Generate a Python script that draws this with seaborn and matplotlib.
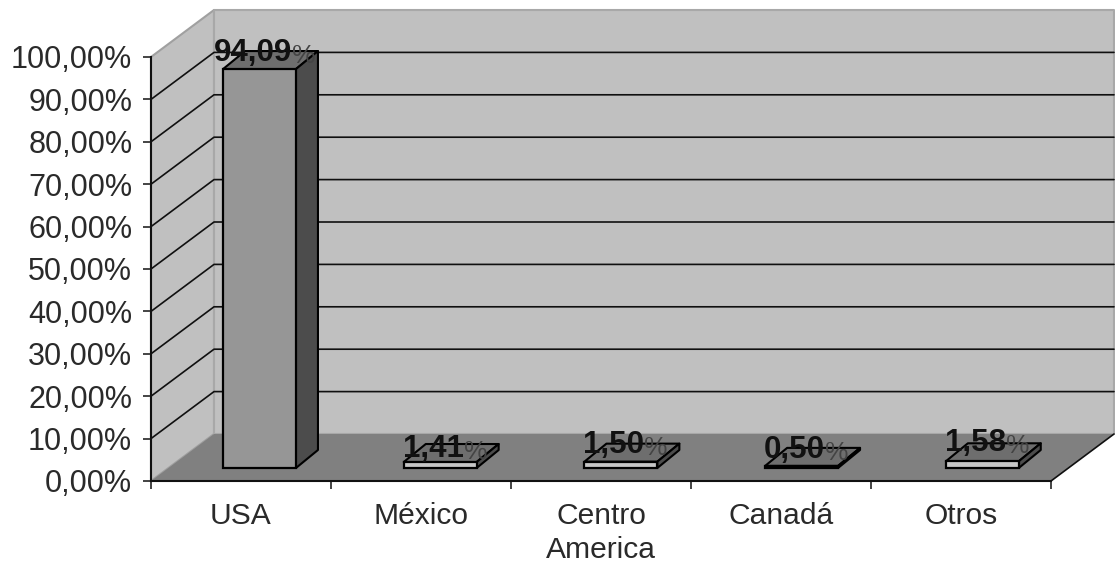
import matplotlib
matplotlib.use("Agg")
import matplotlib.pyplot as plt
from matplotlib.patches import Polygon
from matplotlib.transforms import Affine2D, IdentityTransform
import pandas as pd
import seaborn as sns

# Export share by destination
regions = ["USA", "México", "Centro\nAmerica", "Canadá", "Otros"]
shares = [94.09, 1.41, 1.50, 0.50, 1.58]
share_labels = ["94,09", "1,41", "1,50", "0,50", "1,58"]
y_ticks = [0, 10, 20, 30, 40, 50, 60, 70, 80, 90, 100]
y_tick_labels = ["0,00%", "10,00%", "20,00%", "30,00%", "40,00%", "50,00%",
                 "60,00%", "70,00%", "80,00%", "90,00%", "100,00%"]
front_colors = ["#969696", "#c6c6c6", "#c6c6c6", "#404040", "#c6c6c6"]
label_lift = [8, 5, 9, 8, 10]

W, H, DPI = 1115, 563, 100
BOX_DX, BOX_DY = 63, 47      # depth of the chart box, pixels
BAR_DX, BAR_DY = 18.5, 13    # where the bar row sits inside the box
BAR_DRIFT = 0.7              # extra pixels per category along the bar row
SIDE_DX, SIDE_DY = 22, 18    # depth of each bar
PIXELS = IdentityTransform()

sns.set_theme(style="white")
plt.rcParams["font.family"] = ["Liberation Sans", "DejaVu Sans"]

fig = plt.figure(figsize=(W / DPI, H / DPI), dpi=DPI, facecolor="white")
ax = fig.add_axes([151 / W, (H - 481) / H, 900 / W, 424 / H])
ax.patch.set_visible(False)

df = pd.DataFrame({"region": regions, "share": shares})
sns.barplot(data=df, x="region", y="share", hue="region", palette=front_colors,
            width=0.405, saturation=1, edgecolor="black", linewidth=1.6,
            legend=False, zorder=5, ax=ax)
bars = sorted(ax.patches, key=lambda p: p.get_x())
ax.set_xlim(-0.5, 4.5)
ax.set_ylim(0, 100)
xa, xb = ax.get_xlim()


def px(x, y, dx=0, dy=0):
    """Display position of a data point, moved by a pixel offset."""
    a, b = ax.transData.transform((x, y))
    return (a + dx, b + dy)


def face(points, color, z, edge="black", lw=1.6):
    ax.add_patch(Polygon(points, closed=True, facecolor=color, edgecolor=edge,
                         linewidth=lw, transform=PIXELS, clip_on=False, zorder=z,
                         joinstyle="round"))


def rule(points, color, lw, z=3):
    xs, ys = zip(*points)
    ax.plot(xs, ys, color=color, lw=lw, transform=PIXELS, clip_on=False, zorder=z)


box = (BOX_DX, BOX_DY)

# Walls and floor of the box
face([px(xa, 0), px(xa, 100), px(xa, 100, *box), px(xa, 0, *box)], "#c0c0c0", 1,
     edge="#a0a0a0", lw=1.5)
face([px(xa, 0, *box), px(xa, 100, *box), px(xb, 100, *box), px(xb, 0, *box)], "#c0c0c0", 1,
     edge="#a8a8a8", lw=1.5)
face([px(xa, 0), px(xb, 0), px(xb, 0, *box), px(xa, 0, *box)], "#808080", 2, edge="none", lw=0)

# Gridlines running along the side wall and across the back wall
for tick in y_ticks[1:-1]:
    rule([px(xa, tick), px(xa, tick, *box), px(xb, tick, *box)], "#101010", 1.2)
rule([px(xb, 0), px(xb, 0, *box)], "#101010", 1.2)

# Bars: front from seaborn, pushed into the box, with top and side faces added
to_fig = fig.transFigure.inverted()
for pos, (bar, value, text, lift) in enumerate(zip(bars, shares, share_labels, label_lift)):
    near = (BAR_DX + pos * BAR_DRIFT, BAR_DY)
    far = (near[0] + SIDE_DX, BAR_DY + SIDE_DY)
    bar.set_transform(ax.transData + Affine2D().translate(*near))
    bar.set_clip_on(False)
    x0, x1 = bar.get_x(), bar.get_x() + bar.get_width()
    face([px(x0, value, *near), px(x1, value, *near), px(x1, value, *far), px(x0, value, *far)],
         "#6e6e6e", 4, lw=1.5)
    face([px(x1, 0, *near), px(x1, value, *near), px(x1, value, *far), px(x1, 0, *far)],
         "#4c4c4c", 4, lw=1.5)
    fx, fy = to_fig.transform(px((x0 + x1) / 2, value, near[0] - 7, BAR_DY + lift))
    digits = ax.text(fx, fy, text, transform=fig.transFigure, ha="center", va="baseline",
                     fontsize=22.5, fontweight="bold", color="#111111", zorder=8, clip_on=False)
    ax.annotate("%", xy=(1, 0), xycoords=digits, xytext=(0, 0),
                textcoords="offset points", ha="left", va="bottom", fontsize=19,
                color="#444444", annotation_clip=False, zorder=8)

# Axes lines and ticks
sns.despine(ax=ax, top=True, right=True)
for side in ("left", "bottom"):
    ax.spines[side].set_color("#111111")
    ax.spines[side].set_linewidth(1.5)
    ax.spines[side].set_zorder(6)
ax.set_yticks(y_ticks, y_tick_labels)
ax.set_xticks([-0.5, 0.5, 1.5, 2.5, 3.5, 4.5], ["", "", "", "", "", ""])
ax.set_xlabel("")
ax.set_ylabel("")
ax.tick_params(axis="both", direction="out", length=6, width=1.1, color="#111111",
               left=True, bottom=True)
ax.tick_params(axis="y", labelsize=22, labelcolor="#2a2a2a", pad=7.5)

# Category names sit between the ticks
for pos, name in enumerate(regions):
    ax.annotate(name, xy=(pos, 0), xycoords=("data", "axes fraction"), xytext=(0, -15),
                textcoords="offset points", ha="center", va="top", fontsize=21.6,
                color="#2a2a2a", linespacing=1.28, annotation_clip=False)

fig.savefig("out.png", dpi=DPI)
